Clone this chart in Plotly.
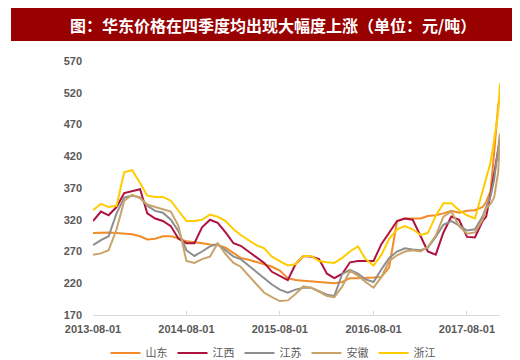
import plotly.graph_objects as go

dates = [
    "2013-08-01", "2013-09-01", "2013-10-01", "2013-11-01", "2013-12-01",
    "2014-01-01", "2014-02-01", "2014-03-01", "2014-04-01", "2014-05-01",
    "2014-06-01", "2014-07-01", "2014-08-01", "2014-09-01", "2014-10-01",
    "2014-11-01", "2014-12-01", "2015-01-01", "2015-02-01", "2015-03-01",
    "2015-04-01", "2015-05-01", "2015-06-01", "2015-07-01", "2015-08-01",
    "2015-09-01", "2015-10-01", "2015-11-01", "2015-12-01", "2016-01-01",
    "2016-02-01", "2016-03-01", "2016-04-01", "2016-05-01", "2016-06-01",
    "2016-07-01", "2016-08-01", "2016-09-01", "2016-10-01", "2016-11-01",
    "2016-12-01", "2017-01-01", "2017-02-01", "2017-03-01", "2017-04-01",
    "2017-05-01", "2017-06-01", "2017-07-01", "2017-08-01", "2017-09-01",
    "2017-10-01", "2017-10-15", "2017-11-01", "2017-11-15", "2017-12-01",
    "2017-12-08",
]

shandong = [299, 300, 300, 299, 298, 297, 294, 289, 290, 294,
            294, 291, 286, 285, 283, 281, 280, 276, 268, 260,
            257, 254, 250, 246, 240, 228, 225, 224, 223, 222,
            221, 220, 222, 228, 228, 228, 229, 230, 245, 318,
            322, 322, 322, 326, 327, 330, 334, 331, 334, 335,
            340, 348, 365, 425, 500, 515]

jiangxi = [318, 333, 327, 340, 362, 365, 368, 330, 322, 318,
           310, 290, 283, 283, 308, 320, 315, 300, 283, 279,
           270, 262, 252, 238, 232, 225, 250, 263, 262, 258,
           235, 228, 235, 253, 255, 255, 255, 282, 300, 318,
           322, 320, 294, 270, 265, 300, 325, 320, 293, 292,
           318, 325, 360, 395, 430, 445]

jiangsu = [280, 288, 294, 330, 355, 358, 355, 342, 334, 331,
           320, 302, 272, 263, 270, 278, 282, 272, 262, 258,
           248, 238, 228, 218, 210, 205, 210, 213, 213, 207,
           202, 200, 235, 241, 235, 226, 222, 242, 260, 270,
           275, 273, 272, 276, 293, 312, 318, 311, 303, 305,
           325, 340, 357, 383, 430, 455]

anhui = [265, 267, 272, 305, 350, 359, 354, 344, 340, 336,
         333, 310, 255, 252, 258, 262, 283, 266, 252, 246,
         232, 218, 205, 198, 192, 193, 203, 215, 213, 207,
         200, 198, 215, 240, 232, 222, 213, 230, 255, 264,
         270, 272, 270, 277, 295, 325, 333, 310, 298, 300,
         320, 338, 345, 355, 395, 456]

zhejiang = [335, 345, 340, 342, 395, 398, 378, 358, 356, 356,
            350, 335, 318, 318, 320, 328, 325, 318, 305, 296,
            288, 280, 275, 262, 255, 248, 250, 263, 263, 255,
            253, 252, 260, 270, 278, 258, 248, 265, 290, 305,
            310, 305, 296, 299, 326, 346, 346, 335, 327, 322,
            365, 385, 410, 445, 490, 535]

series_names = ["山东", "江西", "江苏", "安徽", "浙江"]
series_values = [shandong, jiangxi, jiangsu, anhui, zhejiang]
series_colors = ["#F28C28", "#B0123F", "#8E8E8E", "#C9A46A", "#FFCC00"]

y_ticks = [170, 220, 270, 320, 370, 420, 470, 520, 570]
x_ticks = ["2013-08-01", "2014-08-01", "2015-08-01", "2016-08-01", "2017-08-01"]
title_text = "图：华东价格在四季度均出现大幅度上涨（单位：元/吨）"

fig = go.Figure()
for name, vals, col in zip(series_names, series_values, series_colors):
    fig.add_trace(go.Scatter(
        x=dates, y=vals, name=name, mode="lines",
        line=dict(color=col, width=2),
    ))

W, H = 520, 360
ml, mr, mt, mb = 85, 28, 53, 53
pw = W - ml - mr
ph = H - mt - mb

def px_x(p):
    return (p - ml) / pw

def px_y(p):
    return (H - mb - p) / ph

fig.update_layout(
    width=W, height=H,
    margin=dict(l=ml, r=mr, t=mt, b=mb, autoexpand=False),
    paper_bgcolor="white", plot_bgcolor="white",
    font=dict(family="Liberation Sans, Noto Sans CJK SC", color="#595959", size=11),
    showlegend=True,
    legend=dict(
        orientation="h", x=px_x(265), xanchor="center", y=px_y(345), yanchor="middle",
        font=dict(size=11, color="#595959", family="Noto Sans CJK SC"),
        itemwidth=30,
    ),
    shapes=[dict(
        type="rect", xref="paper", yref="paper",
        x0=px_x(3), x1=px_x(520), y0=px_y(33), y1=px_y(0),
        fillcolor="#990000", line=dict(width=0), layer="below",
    )],
    annotations=[dict(
        text="<b>" + title_text + "</b>", xref="paper", yref="paper",
        x=px_x(265), y=px_y(17), xanchor="center", yanchor="middle",
        showarrow=False,
        font=dict(size=16, color="white", family="Noto Sans CJK SC"),
    )],
)

fig.update_xaxes(
    type="date", range=["2013-08-01", "2017-12-08"],
    tickvals=x_ticks, ticktext=x_ticks,
    showgrid=False, zeroline=False,
    showline=True, linecolor="#D9D9D9", linewidth=1,
    ticks="inside", ticklen=4, tickcolor="#D9D9D9",
    ticklabelstandoff=4,
    tickfont=dict(size=11, color="#595959", family="Liberation Sans", weight="bold"),
)
fig.update_yaxes(
    range=[170, 570], tickvals=y_ticks,
    showgrid=False, zeroline=False, showline=False,
    ticks="", ticklabelstandoff=10,
    tickfont=dict(size=11, color="#595959", family="Liberation Sans", weight="bold"),
)

fig.write_html("out.html")
